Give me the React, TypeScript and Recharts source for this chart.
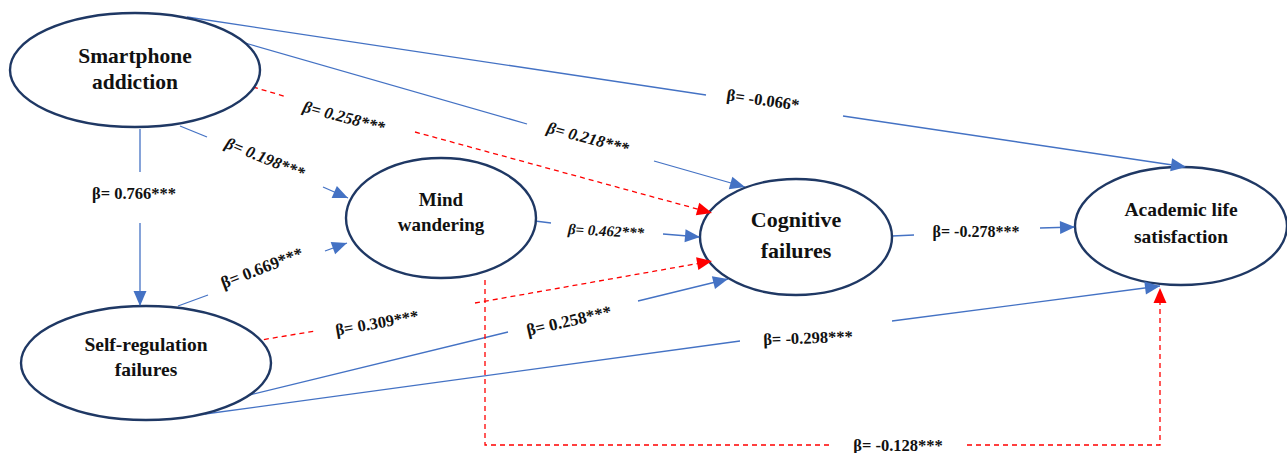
import React from "react";
import { ScatterChart, Scatter, XAxis, YAxis } from "recharts";

const W = 1287;
const H = 453;

const BLUE = "#4472c4";
const RED = "#ff0000";
const NAVY = "#1f3864";
const FONT = "'Liberation Serif', 'DejaVu Serif', serif";

// constructs (centre of each ellipse in picture units)
const nodeIds = ["SA", "MW", "SRF", "CF", "ALS"];
const nodeLines = [
  ["Smartphone", "addiction"],
  ["Mind", "wandering"],
  ["Self-regulation", "failures"],
  ["Cognitive", "failures"],
  ["Academic life", "satisfaction"],
];
const nodeX = [135, 441, 146, 796, 1181];
const nodeY = [70, 218, 363, 237, 226];

// path coefficients
const coefficients = [
  "β= -0.066*",
  "β= 0.218***",
  "β= 0.258***",
  "β= 0.198***",
  "β= 0.766***",
  "β= 0.669***",
  "β= 0.309***",
  "β= 0.258***",
  "β= -0.298***",
  "β= 0.462***",
  "β= -0.278***",
  "β= -0.128***",
];
const indirect = [false, false, true, false, false, false, true, false, false, false, false, true];

// drawn pieces of every path (gaps leave room for the label)
const pathSegments: number[][][][] = [
  [[[187, 17], [706, 95]], [[843, 116], [1186, 167]]],
  [[[245, 43], [527, 124]], [[654, 161], [745, 187]]],
  [[[253, 87], [287, 97]], [[415, 132], [712, 213]]],
  [[[180, 126], [207, 137]], [[323, 187], [348, 198]]],
  [[[140, 129], [140, 172]], [[140, 223], [140, 306]]],
  [[[178, 306], [208, 295]], [[325, 251], [347, 243]]],
  [[[255, 341], [315, 331]], [[475, 303], [712, 261]]],
  [[[237, 398], [508, 332]], [[638, 301], [728, 279]]],
  [[[205, 414], [740, 341]], [[892, 321], [1160, 286]]],
  [[[535, 221], [551, 223]], [[663, 234], [700, 237]]],
  [[[892, 236], [914, 235]], [[1040, 228], [1075, 227]]],
  [[[485, 280], [485, 445], [833, 445]], [[967, 445], [1160, 445], [1160, 288]]],
];

// where each coefficient sits, and its tilt
const labelX = [763, 588, 344, 265, 134, 262, 377, 569, 808, 606, 976, 898];
const labelY = [100, 138, 117, 158, 193, 268, 323, 321, 338, 231, 231, 445];
const labelTilt = [8, 15, 15, 22, 0, -21, -10, -13, -2, 3, 0, 0];
const labelItalic = [false, true, true, true, false, false, false, false, false, true, false, false];
const labelSize = [16.5, 16.5, 16.5, 16.5, 16.5, 17, 16.5, 17, 16.5, 15, 16, 16.5];

const nodeStyle: Record<string, { rx: number; ry: number; size: number; dy: number[] }> = {
  SA: { rx: 125, ry: 57, size: 21.5, dy: [-7, 19] },
  MW: { rx: 95, ry: 60, size: 19, dy: [-12, 13] },
  SRF: { rx: 125, ry: 57, size: 19.5, dy: [-12, 13] },
  CF: { rx: 96, ry: 58, size: 22, dy: [-10, 21] },
  ALS: { rx: 106, ry: 59, size: 19.5, dy: [-10, 17] },
};

const nodeData = nodeIds.map((id, i) => ({ id, x: nodeX[i], y: nodeY[i], lines: nodeLines[i] }));

const labelData = coefficients.map((text, i) => ({
  x: labelX[i],
  y: labelY[i],
  text,
  tilt: labelTilt[i],
  italic: labelItalic[i],
  size: labelSize[i],
}));

const arrowData = pathSegments.map((segs, i) => {
  const last = segs[segs.length - 1];
  const tip = last[last.length - 1];
  const prev = last[last.length - 2];
  return {
    x: tip[0],
    y: tip[1],
    angle: (Math.atan2(tip[1] - prev[1], tip[0] - prev[0]) * 180) / Math.PI,
    color: indirect[i] ? RED : BLUE,
  };
});

const Empty = () => <g />;

const NodeShape = (props: any) => {
  const { cx, cy, payload } = props;
  const s = nodeStyle[payload.id];
  return (
    <g>
      <ellipse cx={cx} cy={cy} rx={s.rx} ry={s.ry} fill="#fff" stroke={NAVY} strokeWidth={2.4} />
      {payload.lines.map((line: string, k: number) => (
        <text
          key={k}
          x={cx}
          y={cy + s.dy[k]}
          textAnchor="middle"
          fontFamily={FONT}
          fontWeight="bold"
          fontSize={s.size}
          fill="#111"
        >
          {line}
        </text>
      ))}
    </g>
  );
};

const ArrowShape = (props: any) => {
  const { cx, cy, payload } = props;
  return (
    <polygon
      points="0,0 -15,-6.5 -15,6.5"
      fill={payload.color}
      transform={`translate(${cx},${cy}) rotate(${payload.angle})`}
    />
  );
};

const LabelShape = (props: any) => {
  const { cx, cy, payload } = props;
  return (
    <text
      x={cx}
      y={cy}
      textAnchor="middle"
      dominantBaseline="central"
      fontFamily={FONT}
      fontWeight="bold"
      fontStyle={payload.italic ? "italic" : "normal"}
      fontSize={payload.size}
      fill="#111"
      transform={`rotate(${payload.tilt} ${cx} ${cy})`}
    >
      {payload.text}
    </text>
  );
};

export default function App() {
  return (
    <div style={{ position: "absolute", left: 0, top: 0, width: W, height: H, background: "#fff" }}>
      <ScatterChart width={W} height={H} margin={{ top: 0, right: 0, bottom: 0, left: 0 }}>
        <XAxis type="number" dataKey="x" domain={[0, W]} hide allowDataOverflow />
        <YAxis type="number" dataKey="y" domain={[0, H]} reversed hide allowDataOverflow />
        {pathSegments.map((segs, i) =>
          segs.map((seg, j) => (
            <Scatter
              key={`p${i}-${j}`}
              data={seg.map(([x, y]) => ({ x, y }))}
              line={{
                stroke: indirect[i] ? RED : BLUE,
                strokeWidth: 1.3,
                strokeDasharray: indirect[i] ? "5 4" : undefined,
              }}
              lineJointType="linear"
              shape={Empty}
              isAnimationActive={false}
            />
          ))
        )}
        <Scatter data={nodeData} shape={NodeShape} isAnimationActive={false} />
        <Scatter data={arrowData} shape={ArrowShape} isAnimationActive={false} />
        <Scatter data={labelData} shape={LabelShape} isAnimationActive={false} />
      </ScatterChart>
    </div>
  );
}
